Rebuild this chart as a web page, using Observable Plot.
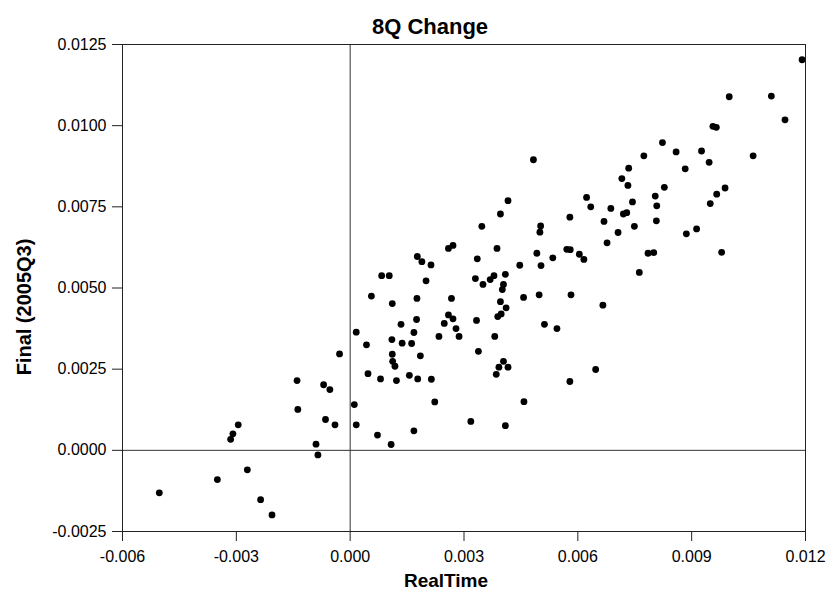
<!DOCTYPE html>
<html>
<head>
<meta charset="utf-8">
<script src="https://cdn.jsdelivr.net/npm/d3@7"></script>
<script src="https://cdn.jsdelivr.net/npm/@observablehq/plot@0.6"></script>
<style>
  html, body { margin: 0; padding: 0; background: #fff; }
  #chart svg { display: block; }
</style>
</head>
<body>
<div id="chart"></div>
<script>
const title = "8Q Change";
const xLabel = "RealTime";
const yLabel = "Final (2005Q3)";
const xTicks = [-0.006, -0.003, 0, 0.003, 0.006, 0.009, 0.012];
const yTicks = [-0.0025, 0, 0.0025, 0.005, 0.0075, 0.01, 0.0125];

// values read in units of 0.001
const realTime = [
  -5.03, -3.50, -2.71, -2.36, -2.06, -2.95, -3.09, -3.15, -1.40, -1.38,
  -0.70, -0.535, -0.28, -0.65, -0.40, -0.90, -0.85, 0.11, 0.16, 0.16,
  0.43, 0.56, 0.47, 0.80, 0.83, 1.03, 1.11, 1.10, 1.11, 1.12,
  1.18, 1.22, 1.34, 1.37, 1.56, 1.62, 1.68, 1.75, 1.76, 1.78,
  1.85, 1.77, 1.89, 2.13, 2.00, 2.14, 2.23, 1.68, 2.34, 2.48,
  2.59, 2.71, 2.67, 2.79, 2.87, 2.59, 2.71, 3.35, 3.30, 3.33,
  3.38, 3.18, 3.47, 0.72, 1.08, 4.83, 4.16, 3.96, 3.87, 3.50,
  3.69, 3.79, 4.09, 4.04, 4.01, 3.96, 4.11, 3.98, 3.89, 3.81,
  4.04, 3.92, 4.16, 3.85, 4.58, 4.47, 4.57, 4.92, 5.02, 5.00,
  5.03, 4.98, 5.12, 5.45, 5.34, 5.71, 5.80, 5.79, 5.82, 6.04,
  6.16, 5.79, 6.47, 6.66, 6.23, 6.34, 6.69, 6.87, 6.77, 7.06,
  7.16, 7.34, 7.32, 7.20, 7.29, 7.44, 7.49, 7.62, 11.91, 9.99,
  11.10, 11.46, 9.56, 9.65, 8.23, 8.59, 9.26, 7.74, 10.62, 9.46,
  8.83, 8.28, 8.04, 8.08, 8.07, 9.88, 9.66, 9.49, 9.13, 8.86,
  7.85, 8.00, 9.79, 4.09
];
const finalVals = [
  -1.31, -0.90, -0.60, -1.52, -1.99, 0.785, 0.51, 0.34, 2.15, 1.26,
  2.02, 1.87, 2.97, 0.95, 0.785, 0.19, -0.14, 1.41, 0.785, 3.64,
  3.25, 4.75, 2.36, 2.20, 5.38, 5.38, 4.52, 3.41, 2.96, 2.74,
  2.59, 2.15, 3.88, 3.30, 2.31, 3.29, 3.63, 4.03, 4.68, 2.20,
  2.91, 5.97, 5.81, 5.71, 5.22, 2.19, 1.49, 0.60, 3.51, 3.91,
  4.17, 4.05, 4.68, 3.75, 3.51, 6.22, 6.31, 5.90, 5.29, 4.00,
  3.05, 0.89, 6.90, 0.47, 0.18, 8.95, 7.69, 7.28, 6.22, 5.11,
  5.26, 5.38, 5.42, 5.11, 4.95, 4.58, 4.39, 4.20, 4.12, 3.51,
  2.74, 2.56, 2.56, 2.34, 1.50, 5.70, 4.71, 6.07, 6.91, 6.72,
  5.69, 4.79, 3.88, 3.75, 5.93, 6.19, 6.18, 7.18, 4.79, 6.04,
  5.88, 2.12, 2.49, 4.47, 7.79, 7.50, 7.05, 7.45, 6.39, 6.71,
  8.37, 8.69, 8.16, 7.28, 7.32, 7.65, 6.90, 5.48, 12.03, 10.89,
  10.91, 10.18, 9.98, 9.95, 9.48, 9.19, 9.22, 9.07, 9.07, 8.87,
  8.67, 8.10, 7.83, 7.53, 7.07, 8.08, 7.89, 7.60, 6.82, 6.67,
  6.07, 6.09, 6.10, 0.76
];

const data = realTime.map((x, i) => ({x: x / 1000, y: finalVals[i] / 1000}));

const chart = Plot.plot({
  width: 830,
  height: 602,
  marginLeft: 122,
  marginRight: 25,
  marginTop: 44,
  marginBottom: 71,
  style: {fontFamily: "'Liberation Sans', Arial, sans-serif", fontSize: "16px", color: "#000", background: "#fff"},
  x: {domain: [-0.006, 0.012]},
  y: {domain: [-0.0025, 0.0125]},
  marks: [
    Plot.ruleX([0], {stroke: "#333", strokeWidth: 1}),
    Plot.ruleY([0], {stroke: "#333", strokeWidth: 1}),
    Plot.frame({stroke: "#222", strokeWidth: 1}),
    Plot.dot(data, {x: "x", y: "y", r: 3.4, fill: "#000", stroke: "none"}),
    Plot.axisX({ticks: xTicks, tickSize: 10, tickPadding: 9, tickFormat: d => d.toFixed(3), label: null, fontSize: 16, stroke: "#222"}),
    Plot.axisY({ticks: yTicks, tickSize: 10, tickPadding: 6, tickFormat: d => d.toFixed(4), label: null, fontSize: 16, stroke: "#222"}),
    Plot.text([title], {text: d => d, frameAnchor: "top", textAnchor: "middle", dy: -26, dx: -34, fontSize: 22, fontWeight: "bold"}),
    Plot.text([xLabel], {text: d => d, frameAnchor: "bottom", textAnchor: "middle", dy: 55, dx: -18, fontSize: 19, fontWeight: "bold"}),
    Plot.text([yLabel], {text: d => d, frameAnchor: "left", textAnchor: "middle", rotate: -90, dx: -98, dy: 19, fontSize: 20, fontWeight: "bold"})
  ]
});
document.getElementById("chart").appendChild(chart);
</script>
</body>
</html>
